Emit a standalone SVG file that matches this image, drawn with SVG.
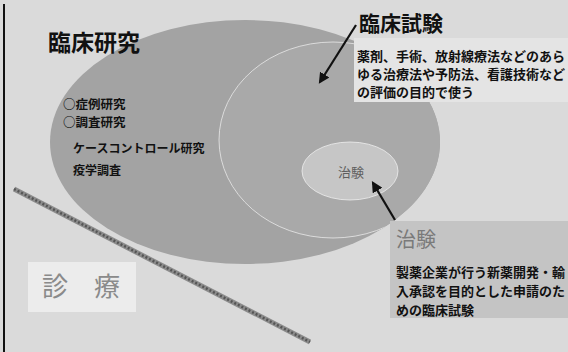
<svg xmlns="http://www.w3.org/2000/svg" width="568" height="352" viewBox="0 0 568 352">
<style>
.t{font-family:"Noto Sans CJK JP","Liberation Sans",sans-serif;font-weight:bold;fill:#111}
.big{font-size:23px}
.mid{font-size:13px}
.li{font-size:12.5px}
.sm{font-size:12px}
.ring{stroke:#eeeeee;stroke-width:1;stroke-opacity:0.75;fill:none}
.arrow{stroke:#111;stroke-width:2.2;fill:none;marker-end:url(#ah)}
</style>
<defs>
<marker id="ah" viewBox="0 0 10 10" refX="8" refY="5" markerWidth="5" markerHeight="5" orient="auto">
<path d="M0,0 L10,5 L0,10 z" fill="#111"/>
</marker>
<clipPath id="outer">
<ellipse cx="245" cy="142" rx="195" ry="122"/>
</clipPath>
</defs>
<rect x="0" y="0" width="568" height="352" fill="#dadada"/>
<line x1="4" y1="4" x2="4" y2="352" stroke="#111" stroke-width="2"/>
<g id="rinsho-kenkyu">
<ellipse cx="245" cy="142" rx="195" ry="122" fill="#a3a3a3"/>
<text class="t big" x="48" y="51">臨床研究</text>
<text class="t li" x="63" y="109">○症例研究</text>
<text class="t li" x="63" y="127">○調査研究</text>
<text class="t sm" x="73" y="153">ケースコントロール研究</text>
<text class="t sm" x="73" y="175">疫学調査</text>
</g>
<g id="rinsho-shiken" clip-path="url(#outer)">
<ellipse cx="333" cy="140" rx="114" ry="98" fill="#a9a9a9"/>
<ellipse class="ring" cx="333" cy="140" rx="114" ry="98"/>
</g>
<g id="chiken-ellipse">
<ellipse cx="350" cy="171" rx="48" ry="29" fill="#c6c6c6" stroke="#eeeeee" stroke-width="1" stroke-opacity="0.8"/>
<text x="351" y="177" text-anchor="middle" font-family="Noto Sans CJK JP, sans-serif" font-size="13" fill="#5e5e5e">治験</text>
</g>
<g id="shinryo">
<rect x="28" y="262" width="108" height="50" fill="#ececec"/>
<text x="42" y="296" font-family="Noto Sans CJK JP, sans-serif" font-size="26" fill="#8a8a8a">診　療</text>
</g>
<g id="divider">
<line x1="14" y1="189" x2="310" y2="342" stroke="#8c8c8c" stroke-width="5"/>
<line x1="14" y1="189" x2="310" y2="342" stroke="#555" stroke-width="2.5" stroke-dasharray="2 2"/>
</g>
<g id="shiken-label">
<rect x="354" y="38" width="214" height="64" fill="#e4e4e4"/>
<text class="t" font-size="21" x="359" y="31">臨床試験</text>
<text class="t mid" x="357" y="61">薬剤、手術、放射線療法などのあら</text>
<text class="t mid" x="357" y="79">ゆる治療法や予防法、看護技術など</text>
<text class="t mid" x="357" y="97">の評価の目的で使う</text>
</g>
<g id="chiken-label">
<rect x="390" y="221" width="178" height="97" fill="#c4c4c4"/>
<text x="396" y="247" font-family="Noto Sans CJK JP, sans-serif" font-size="20" fill="#7a7a7a">治験</text>
<text class="t mid" x="396" y="277">製薬企業が行う新薬開発・輸</text>
<text class="t mid" x="396" y="296">入承認を目的とした申請のた</text>
<text class="t mid" x="396" y="315">めの臨床試験</text>
</g>
<g id="connectors">
<line class="arrow" x1="356" y1="25" x2="320" y2="82"/>
<line class="arrow" x1="395" y1="220" x2="373" y2="183"/>
</g>
</svg>
